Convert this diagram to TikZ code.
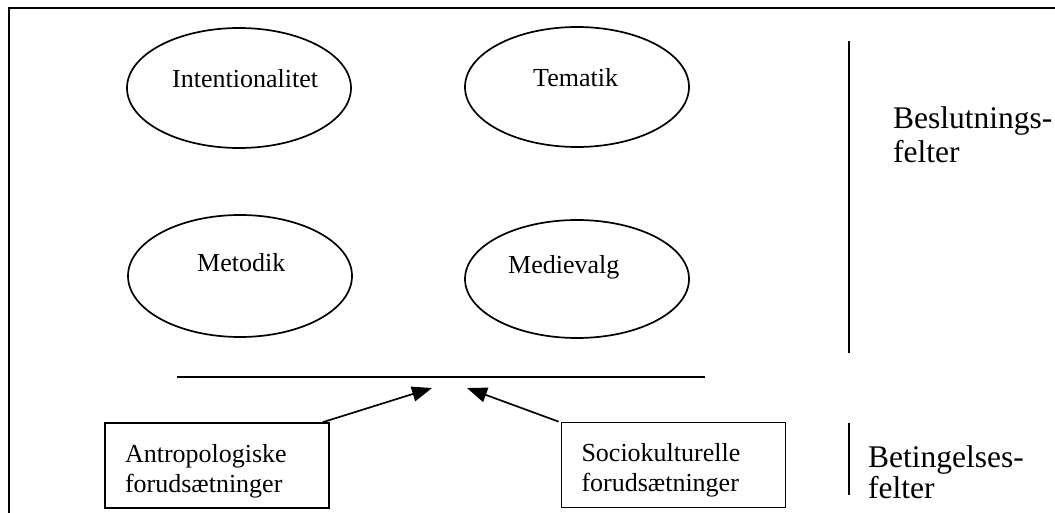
\documentclass[tikz,border=0pt]{standalone}
\usepackage{fontspec}
\setmainfont{Liberation Serif}
\usetikzlibrary{shapes.geometric,arrows.meta}

\begin{document}
\begin{tikzpicture}
      [x=1pt, y=-1pt,
        ell/.style={ellipse, draw, line width=1.7pt, minimum width=224pt, minimum height=120pt, inner sep=0pt},
        txt/.style={anchor=base west, inner sep=0pt, font=\fontsize{26}{30}\selectfont},
        box/.style={draw, line width=1.7pt, minimum width=224pt, minimum height=85pt, text width=184pt,
          inner xsep=20pt, inner ysep=0pt, text height=29pt, text depth=36pt, align=left,
          font=\fontsize{26}{30}\selectfont},
        felt/.style={anchor=base west, inner sep=0pt, align=left},
        pil/.style={line width=1.7pt, -{Triangle[length=20pt, width=15pt]}}]
    \useasboundingbox (0,0) rectangle (1055,513);
    % frame, open at the bottom
    \draw[line width=1.8pt] (9,513) -- (9,8) -- (1055,8);
    % decision fields
    \node[ell] (int) at (239,88) {};
    \node[txt] (intT) at (172,88) {Intentionalitet};
    \node[ell] (tem) at (577,87) {};
    \node[txt] (temT) at (533,87) {Tematik};
    \node[ell, minimum height=122pt] (met) at (240,276) {};
    \node[txt] (metT) at (197,272) {Metodik};
    \node[ell, minimum height=118pt] (med) at (577,279) {};
    \node[txt] (medT) at (508,273) {Medievalg};
    % dividing line
    \coordinate (skelA) at (177,377);
    \coordinate (skelB) at (705,377);
    \draw[line width=1.7pt] (skelA) -- (skelB);
    % conditions
    \node[box] (antro) at (217,465.5) {Antropologiske\\forudsætninger};
    \node[box] (socio) at (673.5,465) {Sociokulturelle\\forudsætninger};
    \coordinate (pilA) at (432,388);
    \coordinate (pilB) at (467,388);
    \draw[pil] ([xshift=-7pt]antro.north east) -- (pilA);
    \draw[pil] ([xshift=-2pt]socio.north west) -- (pilB);
    % right side
    \coordinate (stregA) at (849,41);
    \coordinate (stregB) at (849,353);
    \draw[line width=1.7pt] (stregA) -- (stregB);
    \coordinate (stregC) at (849,423);
    \coordinate (stregD) at (849,495);
    \draw[line width=1.7pt] (stregC) -- (stregD);
    \node[felt, font=\fontsize{31.5}{34}\selectfont] (besl) at (893,163) {Beslutnings-\\felter};
    \node[felt, font=\fontsize{31.5}{31}\selectfont] (beting) at (868,498) {Betingelses-\\felter};
\end{tikzpicture}
\end{document}
